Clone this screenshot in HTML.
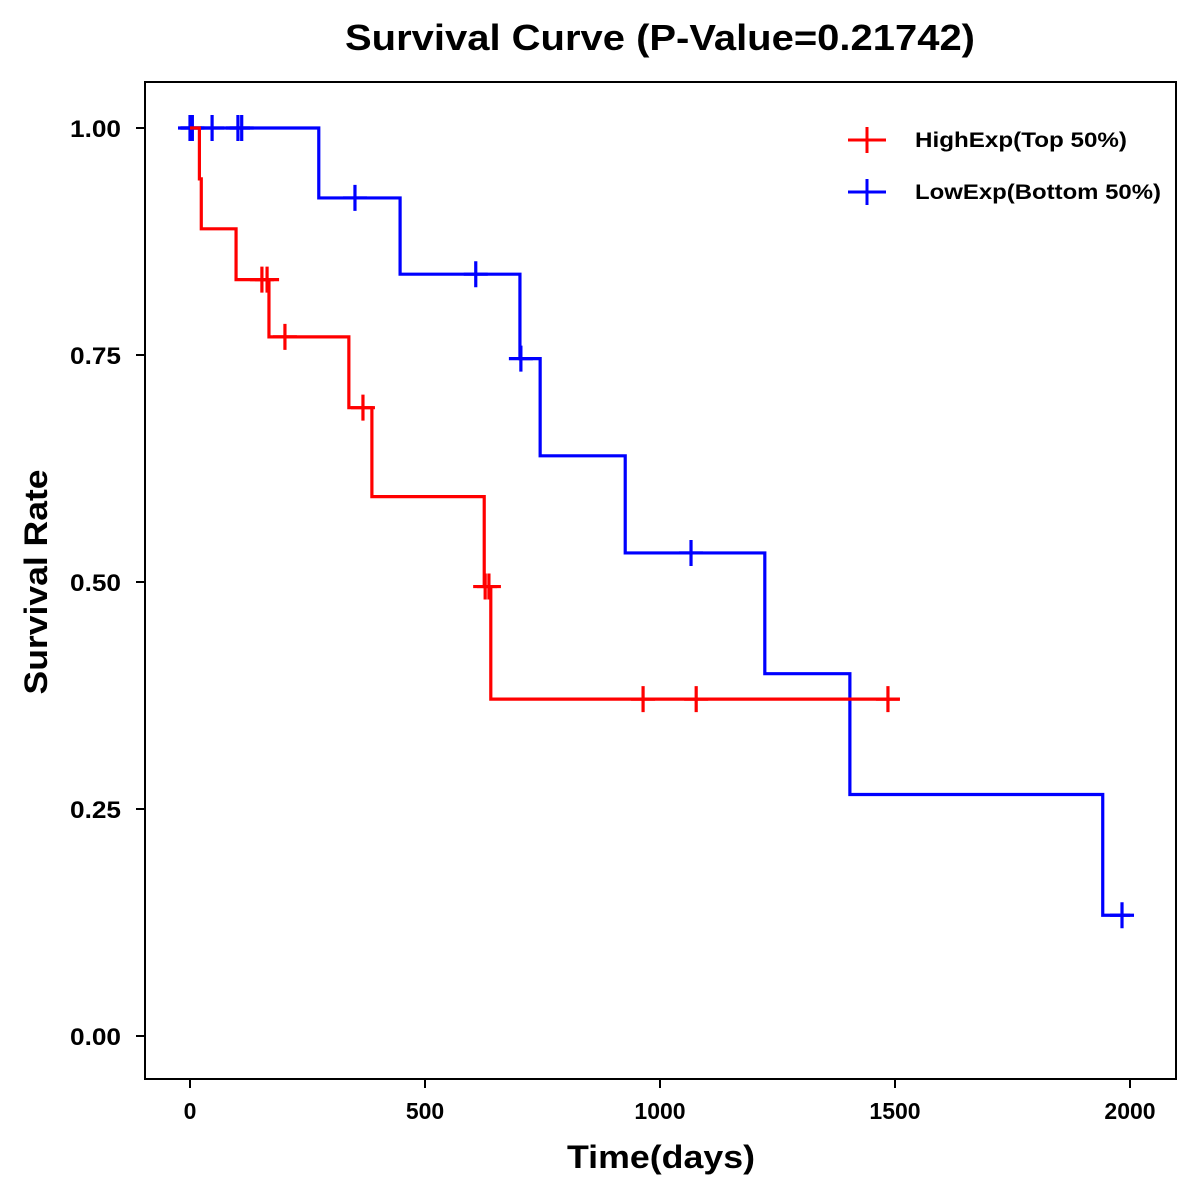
<!DOCTYPE html>
<html><head><meta charset="utf-8"><style>
html,body{margin:0;padding:0;background:#fff;}
svg{display:block;font-family:"Liberation Sans",Arial,sans-serif;}
</style></head><body>
<svg id="chart" width="1200" height="1200" viewBox="0 0 1200 1200">
<rect width="1200" height="1200" fill="#fff"/>
<text x="660" y="50" text-anchor="middle" font-size="36" font-weight="bold" textLength="630" lengthAdjust="spacingAndGlyphs">Survival Curve (P-Value=0.21742)</text>
<rect x="145" y="82" width="1031" height="997" fill="none" stroke="#000" stroke-width="2"/>
<g id="xaxis"></g>
<g id="yaxis"></g>
<text x="661" y="1168" text-anchor="middle" font-size="32" font-weight="bold" textLength="188" lengthAdjust="spacingAndGlyphs">Time(days)</text>
<text transform="translate(47,582) rotate(-90)" text-anchor="middle" font-size="32" font-weight="bold" textLength="225" lengthAdjust="spacingAndGlyphs">Survival Rate</text>
<g id="series"></g>
<g>
<g>
<line x1="848" y1="140" x2="886" y2="140" stroke="#f00" stroke-width="3"/>
<line x1="867" y1="127" x2="867" y2="153" stroke="#f00" stroke-width="3"/>
<text x="915" y="147" font-size="21" font-weight="bold" textLength="212" lengthAdjust="spacingAndGlyphs">HighExp(Top 50%)</text>
</g>
<g>
<line x1="848" y1="192" x2="886" y2="192" stroke="#00f" stroke-width="3"/>
<line x1="867" y1="179" x2="867" y2="205" stroke="#00f" stroke-width="3"/>
<text x="915" y="199" font-size="21" font-weight="bold" textLength="246" lengthAdjust="spacingAndGlyphs">LowExp(Bottom 50%)</text>
</g>
</g>
</svg>
<script>
const xTicks=[0,500,1000,1500,2000];
const yTicks=[0,0.25,0.5,0.75,1.0];
const yTickLabels=["0.00","0.25","0.50","0.75","1.00"];
const highTimes=[0,20,24,98,168,338,387,626,640,1510];
const highSurv=[1.0,0.944,0.889,0.833,0.770,0.692,0.594,0.495,0.371,0.371];
const highCensor=[153,164,202,368,628,636,964,1077,1485];
const lowTimes=[-20,274,447,702,745,926,1223,1404,1942,2000];
const lowSurv=[1.0,0.923,0.839,0.746,0.639,0.532,0.399,0.266,0.133,0.133];
const lowCensor=[0,5,47,102,110,351,608,704,1066,1983];
const NS='http://www.w3.org/2000/svg';
const X=t=>190+t*0.47;
const Y=s=>1036-s*908;
function mk(tag,attrs,parent){const e=document.createElementNS(NS,tag);for(const k in attrs)e.setAttribute(k,attrs[k]);parent.appendChild(e);return e;}
const xa=document.getElementById('xaxis'),ya=document.getElementById('yaxis'),sg=document.getElementById('series');
xTicks.forEach(v=>{
  const l=mk('line',{x1:X(v),x2:X(v),y1:1079,y2:1088,stroke:'#000','stroke-width':2},xa);
  
  
  const t=mk('text',{x:X(v),y:1119,'text-anchor':'middle','font-size':23,'font-weight':'bold'},xa);
  t.textContent=v;
  
  
});
yTicks.forEach((v,i)=>{
  const l=mk('line',{x1:136,x2:145,y1:Y(v),y2:Y(v),stroke:'#000','stroke-width':2},ya);
  
  
  const t=mk('text',{x:121,y:Y(v)+9,'text-anchor':'end','font-size':24,'font-weight':'bold',textLength:51,lengthAdjust:'spacingAndGlyphs'},ya);
  t.textContent=yTickLabels[i];
  
  
});
function survAt(times,surv,t){let s=surv[0];for(let i=0;i<times.length;i++){if(times[i]<=t)s=surv[i];}return s;}
function draw(times,surv,cens,color,name){
  const g=mk('g',{},sg);
  
  
  let d='M'+X(times[0])+','+Y(surv[0]);
  for(let i=1;i<times.length;i++){d+=' H'+X(times[i])+' V'+Y(surv[i]);}
  const p=mk('path',{d:d,fill:'none',stroke:color,'stroke-width':3.2},g);
  
  
  cens.forEach(c=>{
    const cx=X(c),cy=Y(survAt(times,surv,c));
    const m=mk('path',{d:'M'+(cx-12)+','+cy+' H'+(cx+12)+' M'+cx+','+(cy-13)+' V'+(cy+13),stroke:color,'stroke-width':3.2,fill:'none'},g);
    
    
  });
}
draw(lowTimes,lowSurv,lowCensor,'#00f','low-exp');
draw(highTimes,highSurv,highCensor,'#f00','high-exp');
</script>
</body></html>
